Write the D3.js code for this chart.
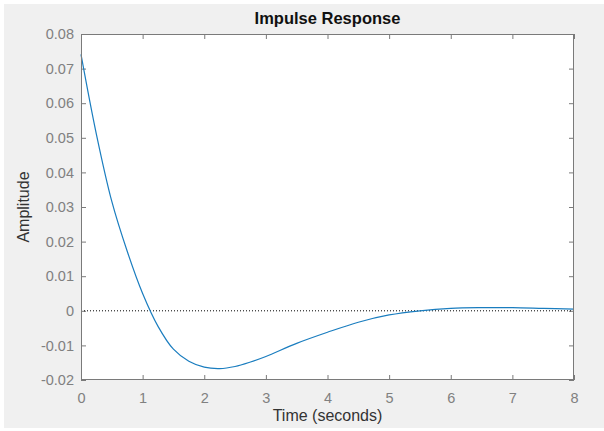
<!DOCTYPE html>
<html>
<head>
<meta charset="utf-8">
<script src="https://cdn.jsdelivr.net/npm/d3@7"></script>
<style>
  html, body { margin: 0; padding: 0; background: #ffffff; }
  svg { display: block; }
  text { font-family: "Liberation Sans", Arial, sans-serif; }
</style>
</head>
<body>
<svg id="chart" width="604" height="431"></svg>
<script>
// ---- data ----
const timeValues = [0, 0.25, 0.5, 0.75, 1.0, 1.25, 1.5, 1.75, 2.0, 2.25, 2.5, 2.75, 3.0, 3.5, 4.0, 4.5, 5.0, 5.5, 6.0, 6.5, 7.0, 7.5, 8.0];
const amplitudeValues = [0.0741, 0.0510, 0.0316, 0.0172, 0.0050, -0.0045, -0.0111, -0.0146, -0.0163, -0.0167, -0.0161, -0.0148, -0.0132, -0.0094, -0.0062, -0.0033, -0.0012, 0.0000, 0.0007, 0.0009, 0.0009, 0.0007, 0.0005];
const xTickValues = [0, 1, 2, 3, 4, 5, 6, 7, 8];
const yTickValues = [-0.02, -0.01, 0, 0.01, 0.02, 0.03, 0.04, 0.05, 0.06, 0.07, 0.08];
const xDomain = [0, 8];
const yDomain = [-0.02, 0.08];
const titleText = "Impulse Response";
const xLabelText = "Time (seconds)";
const yLabelText = "Amplitude";

// ---- layout ----
const W = 604, H = 431;
const plot = { left: 81, right: 574, top: 34, bottom: 380 };
const svg = d3.select("#chart");

svg.append("rect").attr("x", 0).attr("y", 0).attr("width", W).attr("height", H).attr("fill", "#ffffff");
svg.append("rect").attr("x", 4).attr("y", 4).attr("width", W - 4).attr("height", 424).attr("fill", "#f0f0f0");

const x = d3.scaleLinear().domain(xDomain).range([plot.left, plot.right]);
const y = d3.scaleLinear().domain(yDomain).range([plot.bottom, plot.top]);

// plot area
svg.append("rect")
  .attr("x", plot.left).attr("y", plot.top)
  .attr("width", plot.right - plot.left).attr("height", plot.bottom - plot.top)
  .attr("fill", "#ffffff");

const axisColor = "#7a7a7a";
const tickLabelColor = "#808080";
const tickLen = 5;

function styleAxis(g, showLabels) {
  g.select(".domain").remove();
  g.selectAll(".tick line").attr("stroke", axisColor);
  g.selectAll(".tick text")
    .attr("fill", tickLabelColor)
    .style("font-size", "14.5px")
    .style("font-family", "'Liberation Sans', Arial, sans-serif");
  if (!showLabels) g.selectAll(".tick text").remove();
}

// bottom axis (ticks inside)
const xAxisBottom = d3.axisBottom(x).tickValues(xTickValues).tickSize(-tickLen).tickPadding(13)
  .tickFormat(d => String(d));
svg.append("g").attr("transform", `translate(0,${plot.bottom})`).call(xAxisBottom)
  .call(g => styleAxis(g, true));

// top axis (ticks inside, no labels)
const xAxisTop = d3.axisTop(x).tickValues(xTickValues).tickSize(-tickLen);
svg.append("g").attr("transform", `translate(0,${plot.top})`).call(xAxisTop)
  .call(g => styleAxis(g, false));

// left axis (plain hyphen minus like the reference)
const yFmt = d => (Math.abs(d) < 1e-12 ? "0" : d.toFixed(2));
const yAxisLeft = d3.axisLeft(y).tickValues(yTickValues).tickSize(-tickLen).tickPadding(7)
  .tickFormat(yFmt);
svg.append("g").attr("transform", `translate(${plot.left},0)`).call(yAxisLeft)
  .call(g => styleAxis(g, true));

// right axis
const yAxisRight = d3.axisRight(y).tickValues(yTickValues).tickSize(-tickLen);
svg.append("g").attr("transform", `translate(${plot.right},0)`).call(yAxisRight)
  .call(g => styleAxis(g, false));

// zero reference dotted line
svg.append("line")
  .attr("x1", x(xDomain[0])).attr("x2", x(xDomain[1]))
  .attr("y1", y(0)).attr("y2", y(0))
  .attr("stroke", "#000000").attr("stroke-width", 1)
  .attr("stroke-dasharray", "1,2");

// response curve
const data = timeValues.map((t, i) => ({ t, v: amplitudeValues[i] }));
const line = d3.line().x(d => x(d.t)).y(d => y(d.v)).curve(d3.curveCatmullRom.alpha(0.5));
svg.append("path").datum(data)
  .attr("d", line)
  .attr("fill", "none")
  .attr("stroke", "#1a7dbf")
  .attr("stroke-width", 1.2);

// box
svg.append("rect")
  .attr("x", plot.left + 0.5).attr("y", plot.top + 0.5)
  .attr("width", plot.right - plot.left - 1).attr("height", plot.bottom - plot.top - 1)
  .attr("fill", "none").attr("stroke", axisColor).attr("stroke-width", 1);

// title
svg.append("text")
  .attr("x", (plot.left + plot.right) / 2).attr("y", 24)
  .attr("text-anchor", "middle")
  .attr("fill", "#111111")
  .style("font-size", "16.5px").style("font-weight", "bold")
  .text(titleText);

// x label
svg.append("text")
  .attr("x", (plot.left + plot.right) / 2).attr("y", 421)
  .attr("text-anchor", "middle")
  .attr("fill", "#333333")
  .style("font-size", "16px")
  .text(xLabelText);

// y label
svg.append("text")
  .attr("transform", `translate(29,${(plot.top + plot.bottom) / 2}) rotate(-90)`)
  .attr("text-anchor", "middle")
  .attr("fill", "#333333")
  .style("font-size", "16px")
  .text(yLabelText);
</script>
</body>
</html>
